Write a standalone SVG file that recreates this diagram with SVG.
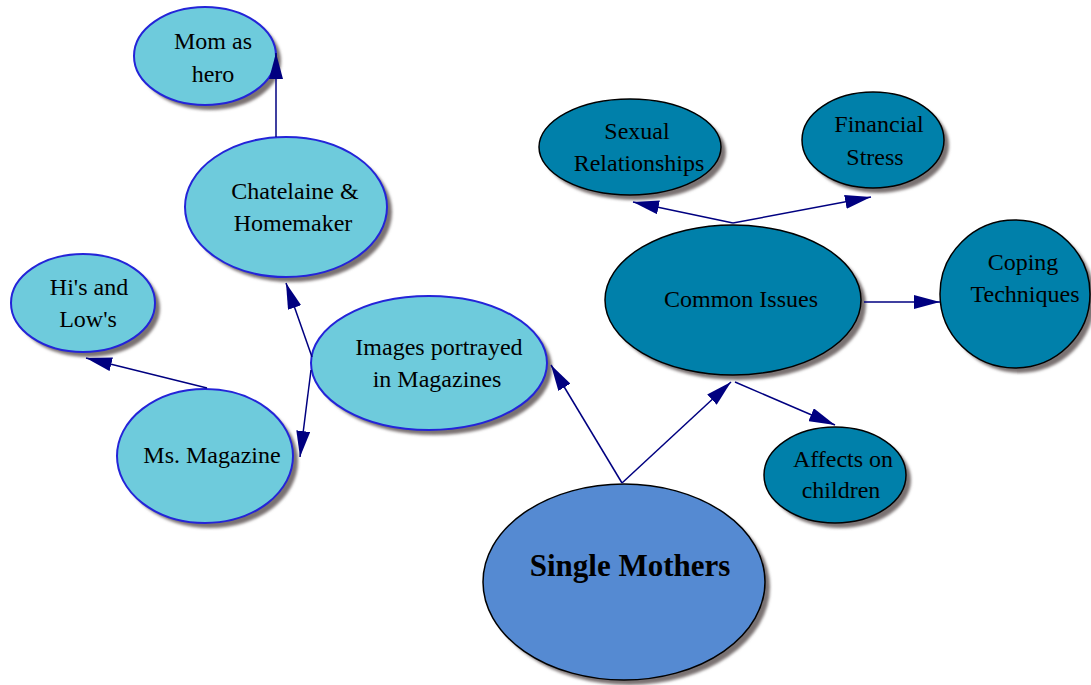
<svg xmlns="http://www.w3.org/2000/svg" width="1091" height="685" viewBox="0 0 1091 685">
<style>
.light{fill:#6ECBDC;stroke:#2424D8;stroke-width:2}
.dark{fill:#0080AA;stroke:#000;stroke-width:1.5}
.root{fill:#558AD2;stroke:#000;stroke-width:1.5}
.sh{fill:#7a7272;filter:url(#blur)}
text{font-family:"Liberation Serif","Times New Roman",serif;font-size:24px;fill:#000;text-anchor:middle}
.big{font-size:31px;font-weight:bold}
.con line{stroke:#000080;stroke-width:1.5;marker-end:url(#arr)}
</style>
<defs>
<filter id="blur" x="-10%" y="-10%" width="120%" height="120%"><feGaussianBlur stdDeviation="1.5"/></filter>
<marker id="arr" viewBox="0 0 26 14" refX="26" refY="7" markerWidth="26" markerHeight="14" markerUnits="userSpaceOnUse" orient="auto"><path d="M0,0 L26,7 L0,14 z" fill="#000080"/></marker>
</defs>
<rect width="1091" height="685" fill="#fff"/>
<g id="mom"><ellipse class="sh" cx="210" cy="61" rx="71" ry="49"/><ellipse class="light" cx="205" cy="56" rx="71" ry="49"/><text x="213" y="49">Mom as</text><text x="213" y="82">hero</text></g>
<g id="chatelaine"><ellipse class="sh" cx="291" cy="212" rx="101" ry="70"/><ellipse class="light" cx="286" cy="207" rx="101" ry="70"/><text x="295" y="199">Chatelaine &amp;</text><text x="293" y="231">Homemaker</text></g>
<g id="his"><ellipse class="sh" cx="88" cy="308" rx="72" ry="49"/><ellipse class="light" cx="83" cy="303" rx="72" ry="49"/><text x="89" y="295">Hi's and</text><text x="88" y="327">Low's</text></g>
<g id="images"><ellipse class="sh" cx="434" cy="368" rx="118" ry="67"/><ellipse class="light" cx="429" cy="363" rx="118" ry="67"/><text x="439" y="355">Images portrayed</text><text x="437" y="387">in Magazines</text></g>
<g id="ms"><ellipse class="sh" cx="210" cy="461" rx="88" ry="67"/><ellipse class="light" cx="205" cy="456" rx="88" ry="67"/><text x="212" y="463">Ms. Magazine</text></g>
<g id="single"><ellipse class="sh" cx="629" cy="587" rx="141" ry="98"/><ellipse class="root" cx="624" cy="582" rx="141" ry="98"/><text class="big" x="630" y="576">Single Mothers</text></g>
<g id="common"><ellipse class="sh" cx="738" cy="305" rx="128" ry="75"/><ellipse class="dark" cx="733" cy="300" rx="128" ry="75"/><text x="741" y="307">Common Issues</text></g>
<g id="sexual"><ellipse class="sh" cx="635" cy="152" rx="91" ry="48"/><ellipse class="dark" cx="630" cy="147" rx="91" ry="48"/><text x="637" y="139">Sexual</text><text x="639" y="171">Relationships</text></g>
<g id="financial"><ellipse class="sh" cx="878" cy="145" rx="71" ry="48"/><ellipse class="dark" cx="873" cy="140" rx="71" ry="48"/><text x="879" y="132">Financial</text><text x="875" y="165">Stress</text></g>
<g id="coping"><ellipse class="sh" cx="1020" cy="299" rx="75" ry="74"/><ellipse class="dark" cx="1015" cy="294" rx="75" ry="74"/><text x="1023" y="270">Coping</text><text x="1025" y="302">Techniques</text></g>
<g id="affects"><ellipse class="sh" cx="840" cy="480" rx="71" ry="48"/><ellipse class="dark" cx="835" cy="475" rx="71" ry="48"/><text x="843" y="467">Affects on</text><text x="841" y="498">children</text></g>
<g id="connectors" class="con">
<line x1="276" y1="137" x2="276" y2="53"/>
<line x1="312" y1="357" x2="286" y2="283"/>
<line x1="311" y1="370" x2="300" y2="457"/>
<line x1="207" y1="388" x2="86" y2="358"/>
<line x1="622" y1="483" x2="551" y2="365"/>
<line x1="622" y1="483" x2="731" y2="382"/>
<line x1="733" y1="223" x2="633" y2="202"/>
<line x1="733" y1="223" x2="871" y2="197"/>
<line x1="864" y1="302" x2="940" y2="302"/>
<line x1="735" y1="382" x2="835" y2="425"/>
</g>
</svg>
